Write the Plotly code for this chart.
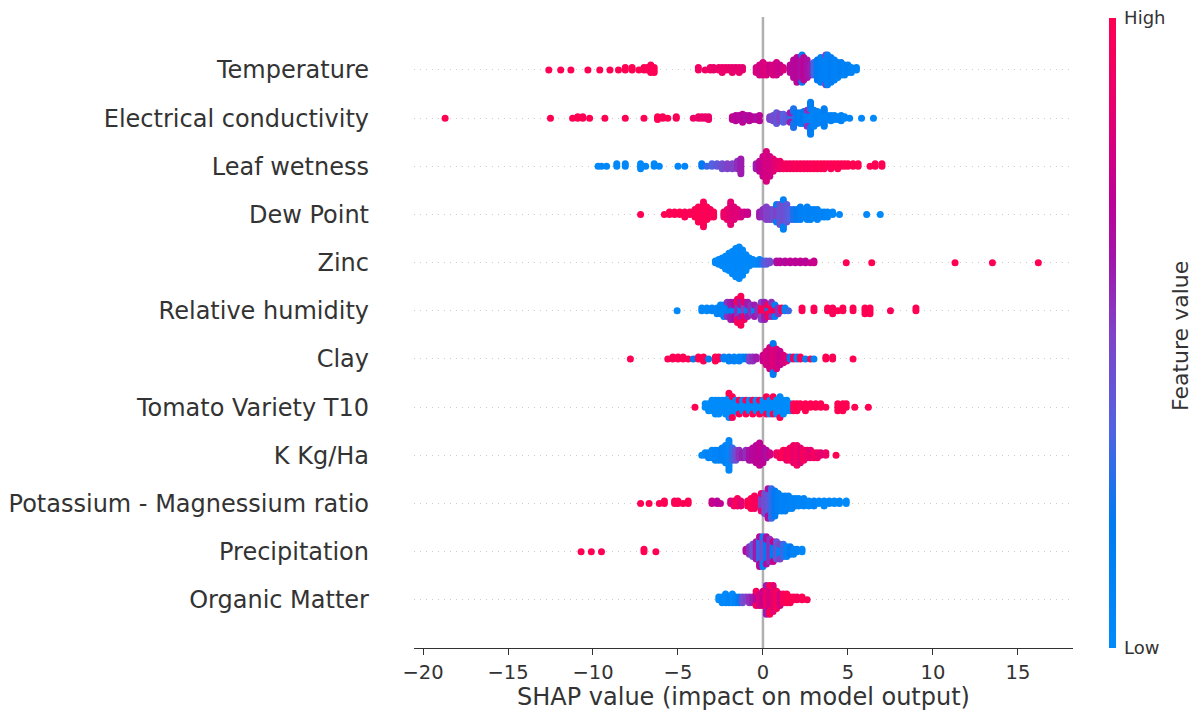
import numpy as np
import plotly.graph_objects as go

# Features, ordered from top row to bottom row
FEATURES = [
    "Temperature",
    "Electrical conductivity",
    "Leaf wetness",
    "Dew Point",
    "Zinc",
    "Relative humidity",
    "Clay",
    "Tomato Variety T10",
    "K Kg/Ha",
    "Potassium - Magnessium ratio",
    "Precipitation",
    "Organic Matter",
]

# (SHAP value, normalised feature value, number of samples at that value)
temperature = [
    (-12.6, 1.0, 1), (-11.9, 1.0, 1), (-11.3, 1.0, 1), (-10.3, 1.0, 1), (-9.6, 1.0, 1),
    (-9.0, 1.0, 1), (-8.5, 1.0, 1), (-8.1, 1.0, 2), (-7.7, 1.0, 2), (-7.3, 1.0, 1),
    (-7.0, 0.98, 2), (-6.8, 1.0, 2), (-6.6, 0.97, 4), (-6.4, 1.0, 3),
    (-3.8, 0.92, 2), (-3.4, 0.9, 1), (-3.1, 0.9, 2), (-2.9, 0.88, 2), (-2.6, 0.9, 2),
    (-2.4, 0.87, 3), (-2.2, 0.9, 2), (-2.0, 0.86, 2), (-1.8, 0.88, 3), (-1.6, 0.85, 2),
    (-1.4, 0.87, 3), (-1.2, 0.85, 2),
    (-0.4, 0.8, 3), (-0.2, 0.78, 5), (0.0, 0.8, 6), (0.2, 0.82, 5), (0.4, 0.76, 4),
    (0.6, 0.8, 5), (0.8, 0.78, 6), (1.0, 0.75, 4), (1.2, 0.8, 2),
    (1.6, 0.7, 4), (1.8, 0.68, 8), (2.0, 0.7, 11), (2.2, 0.66, 10), (2.3, 0.15, 2),
    (2.4, 0.7, 10), (2.6, 0.64, 8), (2.8, 0.6, 5),
    (3.0, 0.3, 6), (3.2, 0.2, 9), (3.4, 0.15, 11), (3.6, 0.12, 11), (3.7, 0.5, 2),
    (3.8, 0.1, 13), (4.0, 0.15, 11), (4.2, 0.12, 9), (4.4, 0.1, 7), (4.6, 0.15, 6),
    (4.8, 0.1, 5), (5.0, 0.12, 4), (5.2, 0.1, 3), (5.5, 0.08, 2),
]

electrical_conductivity = [
    (-18.7, 1.0, 1), (-12.5, 1.0, 1), (-11.2, 1.0, 1), (-10.9, 1.0, 2), (-10.6, 0.98, 2),
    (-10.2, 1.0, 1), (-9.3, 1.0, 1), (-8.1, 1.0, 1), (-7.0, 1.0, 1), (-6.2, 1.0, 3),
    (-5.9, 0.97, 2), (-5.6, 1.0, 1), (-5.1, 0.98, 2),
    (-4.1, 0.9, 1), (-3.8, 0.88, 2), (-3.6, 0.9, 2), (-3.4, 0.86, 2), (-3.2, 0.88, 3),
    (-1.8, 0.72, 3), (-1.6, 0.7, 5), (-1.4, 0.68, 4), (-1.2, 0.7, 3), (-1.0, 0.66, 4),
    (-0.8, 0.68, 5), (-0.6, 0.7, 3), (-0.4, 0.66, 3), (-0.2, 0.7, 2),
    (0.4, 0.5, 3), (0.6, 0.45, 5), (0.8, 0.4, 4), (1.0, 0.5, 6), (1.2, 0.35, 7),
    (1.4, 0.4, 5), (1.6, 0.3, 6), (1.6, 0.6, 2), (1.8, 0.25, 7), (2.0, 0.2, 8),
    (2.2, 0.15, 9), (2.4, 0.2, 10), (2.6, 0.1, 11), (2.6, 0.55, 2), (2.8, 0.15, 12),
    (3.0, 0.1, 13), (3.2, 0.12, 10), (3.4, 0.1, 8), (3.6, 0.15, 6), (3.8, 0.1, 4),
    (4.0, 0.12, 5), (4.2, 0.1, 4), (4.4, 0.08, 3), (4.6, 0.1, 2), (4.8, 0.05, 2),
    (5.1, 0.08, 1), (5.8, 0.05, 1), (6.5, 0.02, 1),
]

leaf_wetness = [
    (-9.7, 0.02, 1), (-9.5, 0.03, 1), (-9.2, 0.04, 1), (-8.6, 0.03, 2), (-8.1, 0.05, 2),
    (-7.2, 0.03, 3), (-6.9, 0.04, 1), (-6.4, 0.05, 2), (-6.1, 0.04, 1), (-5.0, 0.06, 1),
    (-4.6, 0.08, 1), (-3.6, 0.2, 2), (-3.3, 0.3, 1), (-3.0, 0.35, 2), (-2.7, 0.4, 2),
    (-2.4, 0.45, 3), (-2.1, 0.5, 3), (-1.8, 0.5, 3), (-1.5, 0.55, 4), (-1.3, 0.6, 7),
    (-0.4, 0.6, 3), (-0.2, 0.7, 5), (0.0, 0.75, 9), (0.2, 0.8, 13), (0.4, 0.78, 9),
    (0.6, 0.82, 6), (0.8, 0.85, 4), (1.0, 0.88, 4),
    (1.2, 0.92, 3), (1.4, 0.95, 3), (1.6, 0.93, 3), (1.8, 0.95, 3), (2.0, 0.97, 3),
    (2.2, 0.95, 3), (2.4, 0.98, 3), (2.6, 0.96, 3), (2.8, 0.97, 3), (3.0, 1.0, 3),
    (3.2, 0.97, 3), (3.4, 1.0, 3), (3.6, 0.98, 3), (3.8, 1.0, 2), (4.0, 0.97, 3),
    (4.2, 1.0, 2), (4.4, 1.0, 3), (4.6, 0.98, 2), (4.8, 1.0, 2), (5.0, 1.0, 2),
    (5.3, 1.0, 2), (5.6, 1.0, 2), (6.3, 1.0, 1), (6.6, 1.0, 2), (7.0, 1.0, 2),
]

dew_point = [
    (-7.2, 1.0, 1), (-5.8, 1.0, 1), (-5.5, 1.0, 2), (-5.2, 0.98, 2), (-4.9, 1.0, 2),
    (-4.6, 0.97, 3), (-4.3, 1.0, 2), (-4.0, 0.98, 4), (-3.8, 1.0, 7), (-3.5, 0.97, 11),
    (-3.3, 1.0, 6), (-3.1, 0.95, 4), (-2.9, 0.98, 3),
    (-2.3, 0.9, 3), (-2.1, 0.88, 5), (-1.9, 0.85, 10), (-1.7, 0.82, 6), (-1.5, 0.84, 4),
    (-1.3, 0.8, 3), (-1.1, 0.78, 2), (-0.9, 0.75, 2),
    (-0.2, 0.6, 3), (0.0, 0.55, 4), (0.2, 0.5, 6), (0.4, 0.5, 5), (0.6, 0.45, 5),
    (0.8, 0.5, 6), (0.8, 0.15, 2), (1.0, 0.42, 9), (1.2, 0.45, 10), (1.2, 0.1, 3),
    (1.4, 0.4, 8), (1.6, 0.35, 5),
    (1.8, 0.25, 5), (2.0, 0.2, 5), (2.2, 0.15, 6), (2.4, 0.12, 4), (2.6, 0.1, 6),
    (2.8, 0.12, 5), (3.0, 0.08, 4), (3.2, 0.1, 5), (3.4, 0.08, 3), (3.6, 0.1, 3),
    (3.8, 0.06, 3), (4.1, 0.05, 2), (4.5, 0.04, 1), (6.1, 0.02, 1), (6.9, 0.0, 1),
]

zinc = [
    (-2.8, 0.02, 2), (-2.6, 0.02, 4), (-2.4, 0.03, 6), (-2.2, 0.02, 9), (-2.0, 0.03, 12),
    (-1.8, 0.02, 15), (-1.6, 0.03, 19), (-1.4, 0.02, 21), (-1.2, 0.03, 17), (-1.0, 0.02, 11),
    (-0.8, 0.04, 6), (-0.6, 0.05, 4), (-0.4, 0.06, 3), (-0.2, 0.1, 4),
    (0.0, 0.3, 3), (0.2, 0.4, 3), (0.4, 0.45, 2),
    (0.8, 0.65, 2), (1.0, 0.7, 2), (1.3, 0.68, 2), (1.6, 0.72, 2), (1.9, 0.7, 2),
    (2.2, 0.72, 2), (2.5, 0.7, 2), (2.8, 0.74, 1), (3.0, 0.75, 2),
    (4.9, 1.0, 1), (6.4, 1.0, 1), (11.3, 1.0, 1), (13.5, 1.0, 1), (16.2, 1.0, 1),
]

relative_humidity = [
    (-5.05, 0.02, 1), (-3.6, 0.05, 2), (-3.3, 0.04, 2), (-3.0, 0.08, 2), (-2.7, 0.06, 3),
    (-2.5, 0.1, 4), (-2.3, 0.08, 5),
    (-2.1, 0.1, 4), (-2.1, 0.55, 2), (-1.9, 0.15, 3), (-1.9, 0.6, 4), (-1.7, 0.1, 3),
    (-1.7, 0.65, 4), (-1.5, 0.55, 5), (-1.5, 0.95, 4), (-1.3, 0.1, 3), (-1.3, 0.6, 5),
    (-1.3, 0.98, 3), (-1.1, 0.5, 4), (-1.1, 0.9, 3), (-0.9, 0.15, 3), (-0.9, 0.6, 3),
    (-0.7, 0.55, 4), (-0.5, 0.1, 3), (-0.5, 0.6, 2), (-0.3, 0.55, 3), (-0.1, 0.95, 4),
    (-0.1, 0.5, 3), (0.1, 0.98, 4), (0.1, 0.6, 3), (0.3, 0.2, 2), (0.3, 0.95, 3),
    (0.5, 1.0, 4), (0.5, 0.55, 2), (0.7, 0.9, 3), (0.7, 0.15, 2), (0.9, 0.55, 3),
    (1.1, 0.95, 2), (1.3, 0.1, 2), (1.5, 0.3, 1),
    (2.3, 1.0, 2), (3.0, 0.98, 2), (3.8, 1.0, 2), (4.1, 0.97, 3), (4.4, 1.0, 1),
    (4.7, 1.0, 2), (5.3, 0.99, 2), (6.0, 1.0, 3), (6.3, 1.0, 3), (7.5, 0.97, 1),
    (9.0, 1.0, 2),
]

clay = [
    (-7.8, 1.0, 1), (-5.6, 1.0, 1), (-5.3, 0.97, 2), (-5.0, 1.0, 2), (-4.7, 0.98, 2),
    (-4.4, 1.0, 1), (-4.1, 0.2, 1), (-3.8, 1.0, 2), (-3.5, 0.98, 3), (-3.2, 0.15, 1),
    (-2.8, 1.0, 3), (-2.6, 0.97, 2), (-2.3, 0.1, 2), (-2.0, 0.12, 3), (-1.7, 0.1, 3),
    (-1.4, 0.08, 3), (-1.2, 0.12, 2), (-1.0, 0.2, 2), (-0.8, 0.5, 3), (-0.6, 0.55, 3),
    (-0.4, 0.6, 2),
    (0.0, 0.75, 4), (0.2, 0.8, 8), (0.4, 0.78, 12), (0.6, 0.82, 14), (0.6, 0.2, 3),
    (0.8, 0.8, 11), (1.0, 0.75, 8), (1.2, 0.8, 5), (1.4, 0.82, 3),
    (1.6, 0.2, 2), (1.8, 0.95, 2), (2.0, 0.1, 2), (2.2, 0.98, 2), (2.5, 0.15, 1),
    (2.8, 1.0, 1), (3.0, 0.1, 1), (3.7, 1.0, 2), (4.1, 0.98, 2), (5.3, 1.0, 1),
]

tomato_variety_t10 = [
    (-4.0, 1, 1), (-3.4, 0, 2), (-3.2, 0, 3), (-3.0, 0, 4), (-2.8, 0, 5), (-2.6, 0, 5),
    (-2.4, 0, 4), (-2.2, 0, 5), (-2.0, 0, 7), (-2.0, 1, 1), (-1.8, 0, 5), (-1.8, 1, 2),
    (-1.6, 0, 4), (-1.4, 0, 3), (-1.4, 1, 2), (-1.2, 0, 4), (-1.0, 0, 3), (-1.0, 1, 2),
    (-0.8, 0, 4), (-0.6, 0, 3), (-0.6, 1, 2), (-0.4, 0, 4), (-0.2, 0, 3), (-0.2, 1, 2),
    (0.0, 0, 4), (0.2, 0, 4), (0.2, 1, 2), (0.4, 0, 5), (0.6, 0, 4), (0.6, 1, 2),
    (0.8, 0, 5), (1.0, 0, 6), (1.0, 1, 1), (1.2, 0, 5), (1.4, 0, 4), (1.6, 0, 3),
    (1.8, 1, 3), (2.0, 1, 3), (2.2, 1, 2), (2.5, 1, 3), (2.8, 1, 2), (3.1, 1, 2),
    (3.4, 1, 2), (3.7, 1, 1), (4.4, 1, 3), (4.7, 1, 3), (4.9, 1, 2), (5.4, 1, 1),
    (6.2, 1, 1),
]

k_kg_ha = [
    (-3.6, 0.0, 1), (-3.4, 0.05, 2), (-3.2, 0.1, 3), (-3.0, 0.05, 4), (-2.8, 0.1, 5),
    (-2.6, 0.08, 5), (-2.4, 0.12, 6), (-2.2, 0.1, 8), (-2.0, 0.05, 13), (-1.8, 0.3, 6),
    (-1.6, 0.45, 5), (-1.4, 0.55, 4), (-1.2, 0.6, 3), (-1.0, 0.55, 4), (-0.8, 0.65, 5),
    (-0.6, 0.68, 6), (-0.4, 0.7, 8), (-0.2, 0.72, 10), (0.0, 0.7, 7), (0.2, 0.65, 4),
    (0.4, 0.75, 2),
    (0.8, 0.9, 2), (1.0, 0.95, 3), (1.2, 1.0, 4), (1.4, 0.9, 5), (1.6, 0.95, 6),
    (1.8, 0.88, 8), (2.0, 0.92, 9), (2.2, 0.85, 7), (2.4, 0.95, 5), (2.6, 0.9, 4),
    (2.8, 0.85, 4), (3.0, 0.95, 3), (3.2, 0.9, 3), (3.4, 0.85, 2), (3.7, 0.9, 2),
    (4.3, 1.0, 1),
]

potassium_magnesium_ratio = [
    (-7.2, 1.0, 1), (-6.7, 1.0, 1), (-6.1, 0.98, 1), (-5.8, 1.0, 2), (-5.2, 0.97, 2),
    (-5.0, 1.0, 2), (-4.7, 0.99, 1), (-4.4, 1.0, 2), (-3.0, 0.75, 2), (-2.7, 0.7, 2),
    (-2.5, 0.72, 1), (-1.9, 0.8, 2), (-1.7, 0.9, 3), (-1.5, 0.95, 4), (-1.3, 0.85, 3),
    (-0.9, 0.98, 3), (-0.7, 1.0, 5), (-0.5, 0.95, 6), (-0.3, 0.97, 4),
    (-0.1, 0.5, 6), (-0.1, 0.9, 2), (0.1, 0.45, 9), (0.3, 0.4, 10), (0.3, 0.65, 3),
    (0.5, 0.3, 13), (0.7, 0.2, 11), (0.9, 0.15, 8), (1.1, 0.1, 7), (1.3, 0.12, 7),
    (1.5, 0.1, 6), (1.7, 0.08, 5), (1.9, 0.1, 4), (2.1, 0.06, 4), (2.4, 0.08, 4),
    (2.7, 0.05, 3), (3.0, 0.08, 3), (3.3, 0.05, 2), (3.6, 0.04, 3), (3.9, 0.05, 2),
    (4.2, 0.02, 2), (4.5, 0.04, 2), (4.9, 0.0, 2),
]

precipitation = [
    (-10.7, 1.0, 1), (-10.1, 1.0, 1), (-9.5, 0.98, 1), (-7.0, 1.0, 2), (-6.3, 1.0, 1),
    (-1.0, 0.65, 2), (-0.8, 0.55, 4), (-0.6, 0.4, 6), (-0.4, 0.6, 8), (-0.2, 0.3, 10),
    (-0.2, 0.7, 3), (0.0, 0.45, 10), (0.0, 0.1, 3), (0.2, 0.2, 9), (0.2, 0.65, 3),
    (0.4, 0.55, 10), (0.6, 0.15, 7), (0.6, 0.75, 2), (0.8, 0.4, 8), (1.0, 0.1, 5),
    (1.0, 0.5, 2), (1.2, 0.3, 6), (1.4, 0.1, 5), (1.6, 0.2, 4), (1.8, 0.08, 3),
    (2.0, 0.1, 2), (2.3, 0.05, 2),
]

organic_matter = [
    (-2.6, 0.0, 2), (-2.4, 0.05, 3), (-2.2, 0.02, 4), (-2.0, 0.08, 3), (-1.8, 0.05, 4),
    (-1.6, 0.1, 3), (-1.4, 0.2, 3), (-1.2, 0.45, 3), (-1.0, 0.5, 2), (-0.8, 0.55, 3),
    (-0.6, 0.6, 3), (-0.4, 0.7, 4), (-0.4, 0.95, 2), (-0.2, 0.8, 5), (0.0, 0.75, 6),
    (0.2, 0.9, 8), (0.2, 0.6, 3), (0.4, 0.8, 8), (0.4, 1.0, 3), (0.6, 0.85, 10),
    (0.8, 0.95, 7), (1.0, 0.8, 5), (1.2, 0.95, 4), (1.4, 1.0, 4), (1.6, 0.98, 3),
    (1.8, 1.0, 2), (2.0, 0.95, 2), (2.3, 1.0, 2), (2.6, 0.98, 1),
]

ROWS = [
    temperature, electrical_conductivity, leaf_wetness, dew_point, zinc,
    relative_humidity, clay, tomato_variety_t10, k_kg_ha,
    potassium_magnesium_ratio, precipitation, organic_matter,
]

X_TICKS = [-20, -15, -10, -5, 0, 5, 10, 15]

# Red-blue colormap (low = blue, high = red)
RED_BLUE = [
    [0.0, "rgb(0,139,251)"],
    [0.2, "rgb(0,122,242)"],
    [0.35, "rgb(82,98,226)"],
    [0.5, "rgb(128,66,200)"],
    [0.62, "rgb(163,20,170)"],
    [0.72, "rgb(192,0,148)"],
    [0.86, "rgb(232,0,110)"],
    [1.0, "rgb(255,0,82)"],
]


def expand(row):
    """Turn (shap, feature, count) groups into one entry per sample."""
    shap_vals, feat_vals = [], []
    for s, f, c in row:
        shap_vals += [s] * c
        feat_vals += [f] * c
    return np.array(shap_vals, dtype=float), np.array(feat_vals, dtype=float)


def swarm_offsets(values, nbins=100, row_height=0.4):
    """Vertical jitter that piles up points falling into the same x bin."""
    n = len(values)
    quant = np.round(nbins * (values - values.min()) / (values.max() - values.min() + 1e-8))
    order = np.argsort(quant, kind="stable")
    ys = np.zeros(n)
    layer, last_bin = 0, -1
    for ind in order:
        if quant[ind] != last_bin:
            layer = 0
        ys[ind] = np.ceil(layer / 2) * ((layer % 2) * 2 - 1)
        layer += 1
        last_bin = quant[ind]
    ys *= 0.9 * (row_height / np.max(ys + 1))
    return ys


fig = go.Figure()
n_rows = len(FEATURES)
for i, (name, row) in enumerate(zip(FEATURES, ROWS)):
    pos = n_rows - 1 - i
    shap_vals, feat_vals = expand(row)
    ys = pos + swarm_offsets(shap_vals)
    fig.add_trace(go.Scatter(
        x=shap_vals, y=ys, mode="markers", name=name,
        marker=dict(size=7, color=feat_vals, coloraxis="coloraxis", line=dict(width=0)),
        showlegend=False, hoverinfo="skip",
    ))

FONT = "DejaVu Sans, Verdana, sans-serif"
TXT = "#333333"
W, H = 1196, 711
M_L, M_R, M_T, M_B = 414, 123, 17, 63
plot_w = W - M_L - M_R
plot_h = H - M_T - M_B

fig.add_shape(type="line", x0=0, x1=0, y0=0, y1=1, xref="x", yref="paper",
              line=dict(color="#b0b0b0", width=2.5), layer="below")

# Colorbar caption, rotated, to the right of the Low/High labels
fig.add_annotation(
    text="Feature value", textangle=-90,
    x=(1180 - M_L) / plot_w, y=(H - M_B - 336) / plot_h,
    xref="paper", yref="paper", xanchor="center", yanchor="middle",
    showarrow=False, font=dict(size=22, color=TXT, family=FONT),
)

fig.update_layout(
    width=W, height=H,
    margin=dict(l=M_L, r=M_R, t=M_T, b=M_B, autoexpand=False),
    paper_bgcolor="white", plot_bgcolor="white",
    font=dict(family=FONT, color=TXT),
    coloraxis=dict(
        cmin=0, cmax=1, colorscale=RED_BLUE,
        colorbar=dict(
            x=(1109 - M_L) / plot_w, xanchor="left", xpad=0,
            y=(H - M_B - 333) / plot_h, yanchor="middle", ypad=0,
            thickness=7, lenmode="pixels", len=630, outlinewidth=0,
            tickvals=[0, 1], ticktext=["Low", "High"],
            ticks="outside", ticklen=5, tickcolor="rgba(0,0,0,0)",
            tickfont=dict(size=18, color=TXT, family=FONT),
        ),
    ),
    xaxis=dict(
        range=[-20.53, 18.24], tickvals=X_TICKS,
        ticktext=[str(t).replace("-", "\u2212") for t in X_TICKS],
        showgrid=False, zeroline=False, showline=True, linecolor="#333333",
        linewidth=1.2, ticks="outside", ticklen=6, tickcolor="#333333",
        tickfont=dict(size=19.5, color=TXT), automargin=False,
        title=dict(text="SHAP value (impact on model output)", font=dict(size=24, color=TXT),
                   standoff=1),
    ),
    yaxis=dict(
        range=[-1, 12.1], tickvals=list(range(n_rows)),
        ticktext=list(reversed(FEATURES)),
        showgrid=True, gridcolor="#cccccc", gridwidth=1, griddash="1px,5px",
        zeroline=False, showline=False, ticks="", automargin=False,
        tickfont=dict(size=24, color=TXT), ticklabelstandoff=44,
    ),
)

fig.write_html("out.html")
